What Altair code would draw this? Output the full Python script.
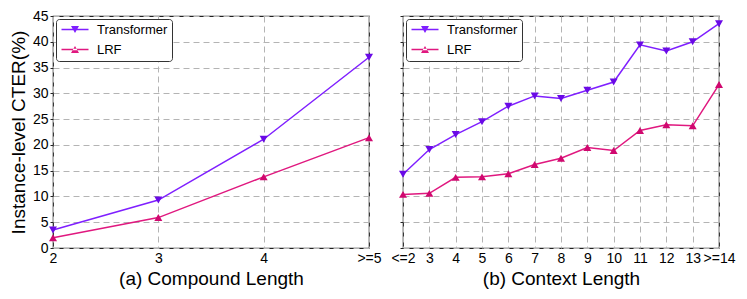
import altair as alt
import pandas as pd

series_names = ["Transformer", "LRF"]
line_colors = ["#7f1fff", "#e0187f"]
marker_colors = ["#6a0ae6", "#d0086f"]

comp_labels = ["2", "3", "4", ">=5"]
comp_transformer = [3.5, 9.3, 21.1, 37.0]
comp_lrf = [2.0, 5.9, 13.8, 21.4]

ctx_labels = ["<=2", "3", "4", "5", "6", "7", "8", "9", "10", "11", "12", "13", ">=14"]
ctx_transformer = [14.3, 19.1, 22.0, 24.5, 27.5, 29.5, 29.0, 30.6, 32.2, 39.4, 38.2, 40.0, 43.5]
ctx_lrf = [10.4, 10.6, 13.7, 13.8, 14.4, 16.2, 17.4, 19.5, 18.9, 22.8, 23.9, 23.7, 31.7]

y_ticks = list(range(0, 46, 5))

# legend symbols (unit = 5px): short line with a triangle marker in its middle
path_down = "M-1,-0.15H4.4V0.15H-1Z M0.9,-0.7L2.5,-0.7L1.7,0.7Z"
path_up = "M-1,-0.15H4.4V0.15H-1Z M0.9,0.7L2.5,0.7L1.7,-0.7Z"

FONT = "Liberation Sans"


def make_frame(labels, tr, lrf):
    rows = []
    for lab, v in zip(labels, tr):
        rows.append({"label": lab, "series": "Transformer", "value": v})
    for lab, v in zip(labels, lrf):
        rows.append({"label": lab, "series": "LRF", "value": v})
    return pd.DataFrame(rows)


def panel(labels, tr, lrf, title, show_y):
    df = make_frame(labels, tr, lrf)
    base = alt.Chart(df)
    is_tr = alt.datum.series == "Transformer"
    x = alt.X(
        "label:N",
        sort=labels,
        scale=alt.Scale(type="point", padding=0),
        axis=alt.Axis(
            title=title, labelAngle=0, grid=True, ticks=False,
            labelFontSize=14, titleFontSize=19, titleFontWeight="normal",
            labelPadding=3, titlePadding=4, labelColor="#000", titleColor="#000",
            labelOverlap=False,
        ),
    )
    if show_y:
        yaxis = alt.Axis(
            title="Instance-level CTER(%)", values=y_ticks, grid=True,
            tickSize=3, tickColor="#222", labelFontSize=14, titleFontSize=19,
            titleFontWeight="normal", labelPadding=2, titlePadding=4,
            labelColor="#000", titleColor="#000",
        )
    else:
        yaxis = alt.Axis(
            title=None, values=y_ticks, grid=True, labels=False,
            tickSize=3, tickColor="#222",
        )
    y = alt.Y("value:Q", scale=alt.Scale(domain=[0, 45], nice=False), axis=yaxis)
    line = base.mark_line(strokeWidth=1.5).encode(
        x=x, y=y, detail="series:N",
        stroke=alt.condition(is_tr, alt.value(line_colors[0]), alt.value(line_colors[1])),
    )
    pts = base.mark_point(filled=True, size=64, opacity=1).encode(
        x=x, y=y,
        fill=alt.condition(is_tr, alt.value(marker_colors[0]), alt.value(marker_colors[1])),
        shape=alt.condition(is_tr, alt.value("triangle-down"), alt.value("triangle-up")),
    )
    leg = alt.Legend(
        orient="top-left", title=None, symbolSize=100, fillColor="white",
        strokeColor="#333", cornerRadius=3, padding=4, offset=3,
        labelFontSize=13, labelColor="#000", symbolStrokeWidth=0, rowPadding=6,
        labelOffset=24, labelFont=FONT,
    )
    dummy = base.mark_point(filled=True, opacity=1, size=0).encode(
        x=x, y=y,
        color=alt.Color("series:N", sort=series_names,
                        scale=alt.Scale(domain=series_names, range=line_colors), legend=leg),
        shape=alt.Shape("series:N", sort=series_names,
                        scale=alt.Scale(domain=series_names, range=[path_down, path_up]), legend=leg),
    )
    return alt.layer(line, pts, dummy).properties(width=316, height=232)


left = panel(comp_labels, comp_transformer, comp_lrf, "(a) Compound Length", True)
right = panel(ctx_labels, ctx_transformer, ctx_lrf, "(b) Context Length", False)

chart = alt.hconcat(left, right, spacing=8).resolve_scale(
    x="independent", color="independent", shape="independent",
).resolve_legend(color="independent", shape="independent").properties(
    padding={"left": 0, "top": 0, "right": 0, "bottom": 0}
).configure(font=FONT).configure_view(stroke="#222", strokeWidth=1.2).configure_axis(
    domain=False, gridColor="#b4b4b4", gridDash=[6, 4], gridWidth=1,
    labelFont=FONT, titleFont=FONT,
)

chart.save("out.html", embed_options={"renderer": "svg", "actions": False})
